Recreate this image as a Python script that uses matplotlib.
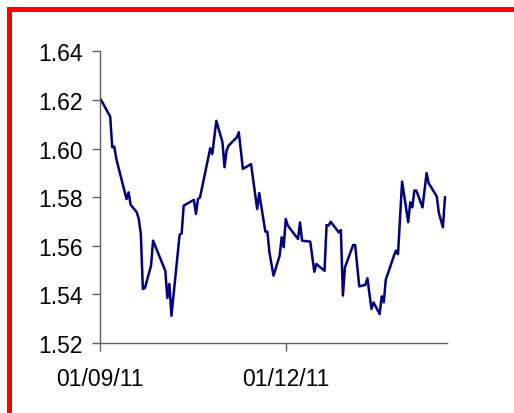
import matplotlib
matplotlib.use("Agg")
import matplotlib.pyplot as plt
import matplotlib.dates as mdates
from matplotlib.patches import Rectangle
import numpy as np

plt.rcParams['font.family'] = ['Liberation Sans', 'DejaVu Sans']

# values (vertices of the line)
dates = ["2011-09-01", "2011-09-06", "2011-09-07", "2011-09-08", "2011-09-09",
         "2011-09-14", "2011-09-15", "2011-09-16", "2011-09-19", "2011-09-20",
         "2011-09-21", "2011-09-22", "2011-09-23", "2011-09-26", "2011-09-27",
         "2011-10-03", "2011-10-04", "2011-10-05", "2011-10-06", "2011-10-10",
         "2011-10-11", "2011-10-12", "2011-10-17", "2011-10-18", "2011-10-19",
         "2011-10-20", "2011-10-25", "2011-10-26", "2011-10-28", "2011-10-31",
         "2011-11-01", "2011-11-02", "2011-11-03", "2011-11-07", "2011-11-08",
         "2011-11-10", "2011-11-14", "2011-11-17", "2011-11-18", "2011-11-21",
         "2011-11-22", "2011-11-23", "2011-11-25", "2011-11-28", "2011-11-29",
         "2011-11-30", "2011-12-01", "2011-12-02", "2011-12-07", "2011-12-08",
         "2011-12-09", "2011-12-13", "2011-12-15", "2011-12-16", "2011-12-20",
         "2011-12-21", "2011-12-22", "2011-12-23", "2011-12-27", "2011-12-28",
         "2011-12-29", "2011-12-30", "2012-01-03", "2012-01-04", "2012-01-06",
         "2012-01-09", "2012-01-10", "2012-01-12", "2012-01-13", "2012-01-16",
         "2012-01-17", "2012-01-18", "2012-01-19", "2012-01-23", "2012-01-24",
         "2012-01-25", "2012-01-27", "2012-01-30", "2012-01-31", "2012-02-01",
         "2012-02-02", "2012-02-03", "2012-02-06", "2012-02-08", "2012-02-09",
         "2012-02-13", "2012-02-14", "2012-02-16", "2012-02-17"]
rates = [1.6208, 1.6131, 1.6005, 1.6008, 1.5957,
         1.5792, 1.5820, 1.5769, 1.5738, 1.5710,
         1.5648, 1.5422, 1.5426, 1.5518, 1.5621,
         1.5497, 1.5385, 1.5443, 1.5312, 1.5645,
         1.5651, 1.5765, 1.5789, 1.5731, 1.5792,
         1.5799, 1.6001, 1.5977, 1.6114, 1.6026,
         1.5923, 1.5991, 1.6012, 1.6046, 1.6067,
         1.5916, 1.5936, 1.5751, 1.5817, 1.5658,
         1.5658, 1.5573, 1.5477, 1.5559, 1.5635,
         1.5594, 1.5710, 1.5683, 1.5628, 1.5696,
         1.5621, 1.5617, 1.5493, 1.5525, 1.5497,
         1.5685, 1.5683, 1.5699, 1.5655, 1.5665,
         1.5395, 1.5511, 1.5603, 1.5603, 1.5433,
         1.5439, 1.5466, 1.5340, 1.5367, 1.5319,
         1.5392, 1.5367, 1.5460, 1.5559, 1.5580,
         1.5566, 1.5864, 1.5697, 1.5779, 1.5758,
         1.5827, 1.5827, 1.5758, 1.5899, 1.5858,
         1.5803, 1.5735, 1.5676, 1.5799]
xtick_dates = ["2011-09-01", "2011-12-01"]
yticks = [1.52, 1.54, 1.56, 1.58, 1.60, 1.62, 1.64]

x = np.array(dates, dtype="datetime64[D]")

W, H = 514, 414
fig = plt.figure(figsize=(W / 100, H / 100), dpi=100)
ax = fig.add_axes([100 / W, (H - 344) / H, 347 / W, 291.7 / H])

ax.plot(x, rates, color="#000080", lw=1.8, solid_joinstyle="round")

ax.set_ylim(1.52, 1.64)
ax.set_yticks(yticks)
ax.set_yticklabels([f"{v:.2f}" for v in yticks])
ax.set_xlim(np.datetime64("2011-09-01"), np.datetime64("2012-02-18"))
ax.set_xticks(np.array(xtick_dates, dtype="datetime64[D]"))
ax.xaxis.set_major_formatter(mdates.DateFormatter("%d/%m/%y"))

for s in ["top", "right"]:
    ax.spines[s].set_visible(False)
for s in ["left", "bottom"]:
    ax.spines[s].set_color("#606060")
    ax.spines[s].set_linewidth(1)
ax.tick_params(axis="both", direction="out", length=5.5, width=1,
               color="#606060", labelsize=16.5, labelcolor="black")
ax.tick_params(axis="y", pad=7)
ax.tick_params(axis="x", pad=12)

# red frame pieces around the chart
def px_rect(x0, y0, x1, y1):
    return Rectangle((x0 / W, 1 - y1 / H), (x1 - x0) / W, (y1 - y0) / H,
                     transform=fig.transFigure, color="red", lw=0)

fig.add_artist(px_rect(7.3, 8, 514, 12.5))
fig.add_artist(px_rect(7.3, 8, 12, 414))
fig.add_artist(px_rect(280, 0, 416, 1.3))

fig.savefig("out.png", dpi=100)
